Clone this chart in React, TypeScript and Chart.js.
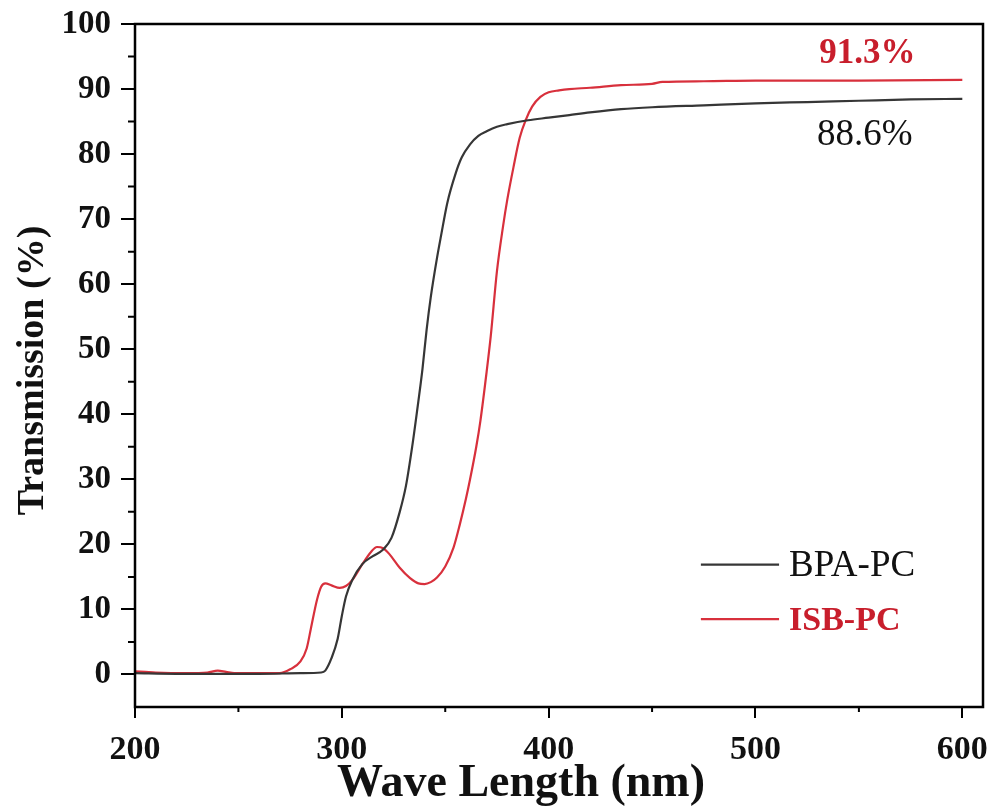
import React, { useEffect, useRef } from "react";
import { Chart, registerables } from "chart.js";

Chart.register(...registerables);

// Wavelength (nm) / transmission (%) for BPA-PC
const bpaWavelength = [200, 220, 240, 260, 280, 290, 292, 295, 298, 300, 302, 305, 310, 315, 320, 324, 328, 331, 334, 337, 339, 341, 343, 346, 348, 351, 355, 358, 362, 366, 370, 375, 380, 390, 400, 410, 420, 435, 450, 475, 500, 525, 550, 575, 600];
const bpaTransmission = [0.2, 0.1, 0.1, 0.1, 0.2, 0.3, 0.6, 2.5, 5.5, 9, 12, 14.5, 17, 18.2, 19.2, 21, 25, 29, 35, 42, 47, 53, 58, 64, 67.5, 72.5, 77, 79.5, 81.5, 82.8, 83.5, 84.2, 84.6, 85.2, 85.6, 86, 86.4, 86.9, 87.2, 87.5, 87.8, 88, 88.2, 88.4, 88.5];

// Wavelength (nm) / transmission (%) for ISB-PC
const isbWavelength = [200, 205, 210, 225, 235, 240, 244, 248, 260, 270, 275, 280, 283, 285, 288, 290, 292, 295, 299, 302, 305, 310, 314, 317, 320, 323, 328, 333, 337, 340, 343, 346, 350, 354, 357, 360, 362, 365, 367, 370, 372, 375, 378, 380, 383, 386, 389, 392, 396, 400, 405, 410, 420, 435, 450, 455, 475, 500, 550, 600];
const isbTransmission = [0.5, 0.4, 0.3, 0.2, 0.3, 0.6, 0.4, 0.2, 0.2, 0.2, 0.8, 2, 4, 7, 11.5, 13.5, 14, 13.7, 13.3, 13.6, 14.5, 17, 18.8, 19.6, 19.4, 18.5, 16.4, 14.8, 14, 13.9, 14.2, 14.9, 16.6, 19.5, 23, 27, 30, 35, 39, 46.5, 52, 62, 69, 73, 78, 82.5, 85.3, 87.3, 88.8, 89.5, 89.8, 90, 90.2, 90.6, 90.8, 91.1, 91.2, 91.3, 91.3, 91.4];

const seriesLabels = ["BPA-PC", "ISB-PC"];
const seriesColors = ["#363636", "#d8303c"];
const labelColors = ["#111111", "#c81e2c"];
const xMajorTicks = [200, 300, 400, 500, 600];
const xMinorTicks = [250, 350, 450, 550];
const yMajorTicks = [0, 10, 20, 30, 40, 50, 60, 70, 80, 90, 100];
const yMinorTicks = [5, 15, 25, 35, 45, 55, 65, 75, 85, 95];
const endValueLabels = ["88.6%", "91.3%"];
const xTitle = "Wave Length (nm)";
const yTitle = "Transmission (%)";

const SERIF = '"Liberation Serif", "Times New Roman", serif';

const overlayPlugin = {
  id: "overlay",
  afterDraw(chart: any) {
    const { ctx, chartArea: a, scales } = chart;
    const x = scales.x;
    const y = scales.y;
    ctx.save();
    // frame
    ctx.strokeStyle = "#000";
    ctx.lineWidth = 2.5;
    ctx.strokeRect(a.left, a.top, a.right - a.left, a.bottom - a.top);
    // minor ticks
    ctx.lineWidth = 2;
    ctx.beginPath();
    for (const v of yMinorTicks) {
      const py = y.getPixelForValue(v);
      ctx.moveTo(a.left - 7, py);
      ctx.lineTo(a.left, py);
    }
    for (const v of xMinorTicks) {
      const px = x.getPixelForValue(v);
      ctx.moveTo(px, a.bottom);
      ctx.lineTo(px, a.bottom + 5);
    }
    ctx.stroke();

    // end value labels
    ctx.textAlign = "left";
    ctx.textBaseline = "alphabetic";
    ctx.fillStyle = labelColors[1];
    ctx.font = `bold 35px ${SERIF}`;
    ctx.fillText(endValueLabels[1], x.getPixelForValue(530.8), y.getPixelForValue(94.0));
    ctx.fillStyle = labelColors[0];
    ctx.font = `37px ${SERIF}`;
    ctx.fillText(endValueLabels[0], x.getPixelForValue(529.8), y.getPixelForValue(81.4));

    // legend
    const legendRows = [
      { line: 16.9, base: 15.1, bold: false, size: 37 },
      { line: 8.5, base: 6.9, bold: true, size: 34 },
    ];
    legendRows.forEach((row, i) => {
      const ly = y.getPixelForValue(row.line);
      ctx.strokeStyle = seriesColors[i];
      ctx.lineWidth = 2.2;
      ctx.beginPath();
      ctx.moveTo(x.getPixelForValue(473.6), ly);
      ctx.lineTo(x.getPixelForValue(511.4), ly);
      ctx.stroke();
      ctx.fillStyle = labelColors[i];
      ctx.font = `${row.bold ? "bold " : ""}${row.size}px ${SERIF}`;
      ctx.fillText(seriesLabels[i], x.getPixelForValue(516.2), y.getPixelForValue(row.base));
    });

    // axis titles
    ctx.fillStyle = "#111";
    ctx.font = `bold 46px ${SERIF}`;
    ctx.textAlign = "center";
    ctx.fillText(xTitle, 521, 796);
    ctx.save();
    ctx.translate(43, (a.top + a.bottom) / 2 + 5);
    ctx.rotate(-Math.PI / 2);
    ctx.font = `bold 38px ${SERIF}`;
    ctx.fillText(yTitle, 0, 0);
    ctx.restore();
    ctx.restore();
  },
};

export default function App() {
  const canvasRef = useRef<HTMLCanvasElement | null>(null);

  useEffect(() => {
    if (!canvasRef.current) return;
    const chart = new Chart(canvasRef.current, {
      type: "line",
      data: {
        datasets: [
          {
            label: seriesLabels[0],
            data: bpaWavelength.map((w, i) => ({ x: w, y: bpaTransmission[i] })),
            borderColor: seriesColors[0],
            borderWidth: 2.2,
            pointRadius: 0,
            cubicInterpolationMode: "monotone",
          },
          {
            label: seriesLabels[1],
            data: isbWavelength.map((w, i) => ({ x: w, y: isbTransmission[i] })),
            borderColor: seriesColors[1],
            borderWidth: 2.2,
            pointRadius: 0,
            cubicInterpolationMode: "monotone",
          },
        ],
      },
      options: {
        animation: false,
        responsive: false,
        devicePixelRatio: 1,
        layout: { padding: { left: 0, top: 24, right: 9, bottom: 0 } },
        plugins: { legend: { display: false }, tooltip: { enabled: false } },
        scales: {
          x: {
            type: "linear",
            min: 200,
            max: 610,
            afterBuildTicks: (s: any) => {
              s.ticks = xMajorTicks.map((v) => ({ value: v }));
            },
            afterFit: (s: any) => {
              s.height = 104;
              s.paddingLeft = 0;
              s.paddingRight = 0;
            },
            grid: { drawOnChartArea: false, drawTicks: true, tickLength: 11, color: "#000", lineWidth: 2 },
            border: { display: false },
            ticks: {
              color: "#111",
              padding: 12,
              maxRotation: 0,
              font: { family: SERIF, size: 34, weight: "bold" },
            },
          },
          y: {
            type: "linear",
            min: -5,
            max: 100,
            afterBuildTicks: (s: any) => {
              s.ticks = yMajorTicks.map((v) => ({ value: v }));
            },
            afterFit: (s: any) => {
              s.width = 135;
              s.paddingTop = 0;
              s.paddingBottom = 0;
            },
            grid: { drawOnChartArea: false, drawTicks: true, tickLength: 14, color: "#000", lineWidth: 2 },
            border: { display: false },
            ticks: {
              color: "#111",
              padding: 10,
              font: { family: SERIF, size: 33, weight: "bold" },
            },
          },
        },
      },
      plugins: [overlayPlugin],
    });
    return () => chart.destroy();
  }, []);

  return (
    <div style={{ position: "absolute", left: 0, top: 0, width: 992, height: 811, background: "#fff" }}>
      <canvas ref={canvasRef} width={992} height={811} />
    </div>
  );
}
